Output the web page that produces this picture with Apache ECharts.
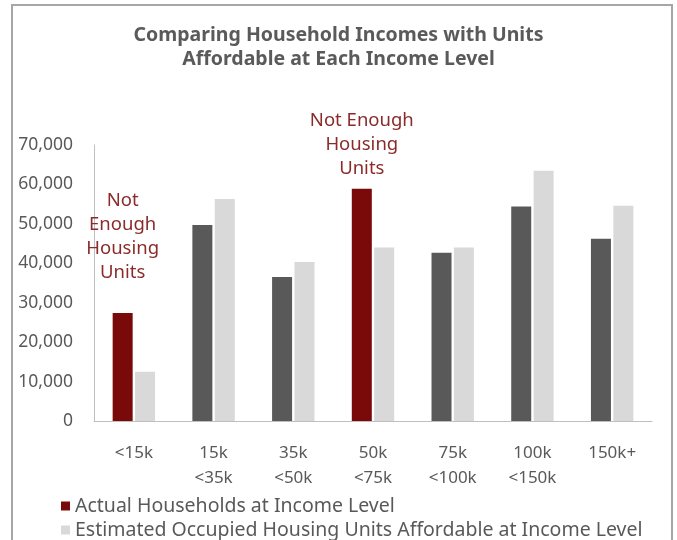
<!DOCTYPE html>
<html>
<head>
<meta charset="utf-8">
<script src="https://cdn.jsdelivr.net/npm/echarts@6/dist/echarts.min.js"></script>
<style>html,body{margin:0;padding:0;background:#fff}#c{width:677px;height:540px}</style>
</head>
<body>
<div id="c"></div>
<script>
var categories = ['<15k', '15k\n<35k', '35k\n<50k', '50k\n<75k', '75k\n<100k', '100k\n<150k', '150k+'];
var actualHouseholds = [27400, 49700, 36500, 58900, 42700, 54400, 46200];
var affordableUnits = [12500, 56300, 40300, 44000, 44000, 63500, 54600];
var shortageIndex = [0, 3];
var shortageLabels = ['Not\nEnough\nHousing\nUnits', 'Not Enough\nHousing\nUnits'];
var yTicks = {min: 0, max: 70000, interval: 10000};
var seriesNames = ['Actual Households at Income Level', 'Estimated Occupied Housing Units Affordable at Income Level'];

var FONT = '"Noto Sans", "Open Sans", sans-serif';
var RED = '#7a0a0a', DARK = '#595959', LIGHT = '#d9d9d9';

var actualData = actualHouseholds.map(function (v, i) {
  var k = shortageIndex.indexOf(i);
  if (k < 0) return {value: v, itemStyle: {color: DARK}};
  return {
    value: v,
    itemStyle: {color: RED},
    label: {
      show: true, position: 'top', distance: k === 0 ? 28 : 8,
      formatter: shortageLabels[k], color: '#8b2a2a',
      fontFamily: FONT, fontSize: 18.5, lineHeight: 24, align: 'center'
    }
  };
});

function legendFor(idx, color, top) {
  return {
    orient: 'horizontal', left: 56, top: top, itemWidth: 9, itemHeight: 9, itemGap: 4,
    icon: 'rect',
    textStyle: {fontFamily: FONT, fontSize: 19.5, color: '#595959', padding: [0, 0, 0, 0]},
    data: [{name: seriesNames[idx], itemStyle: {color: color}}]
  };
}

var chart = echarts.init(document.getElementById('c'), null, {renderer: 'canvas'});
chart.setOption({
  backgroundColor: '#fff',
  animation: false,
  title: {
    text: 'Comparing Household Incomes with Units\nAffordable at Each Income Level',
    left: 'center', top: 18,
    textStyle: {fontFamily: FONT, fontSize: 19.5, fontWeight: 'bold', color: '#5a5a5a', lineHeight: 24}
  },
  graphic: [{
    type: 'rect', shape: {x: 12, y: 5, width: 660, height: 560},
    style: {fill: 'none', stroke: '#a6a6a6', lineWidth: 2}, silent: true, z: 100
  }],
  legend: [legendFor(0, RED, 491), legendFor(1, LIGHT, 515)],
  grid: {left: 94, right: 25, top: 145, bottom: 119, containLabel: false},
  xAxis: {
    type: 'category', data: categories,
    axisLine: {lineStyle: {color: '#bfbfbf'}},
    axisTick: {show: false},
    axisLabel: {fontFamily: FONT, fontSize: 17, color: '#595959', lineHeight: 25, margin: 20}
  },
  yAxis: {
    type: 'value', min: yTicks.min, max: yTicks.max, interval: yTicks.interval,
    axisLine: {show: true, lineStyle: {color: '#bfbfbf'}},
    axisTick: {show: false},
    splitLine: {show: false},
    axisLabel: {
      fontFamily: FONT, fontSize: 17.5, color: '#595959', margin: 21,
      formatter: function (v) { return v.toLocaleString('en-US'); }
    }
  },
  series: [
    {name: seriesNames[0], type: 'bar', data: actualData, barWidth: 20, barGap: '12%', itemStyle: {color: RED}},
    {name: seriesNames[1], type: 'bar', data: affordableUnits, barWidth: 20, itemStyle: {color: LIGHT}}
  ]
});
</script>
</body>
</html>
